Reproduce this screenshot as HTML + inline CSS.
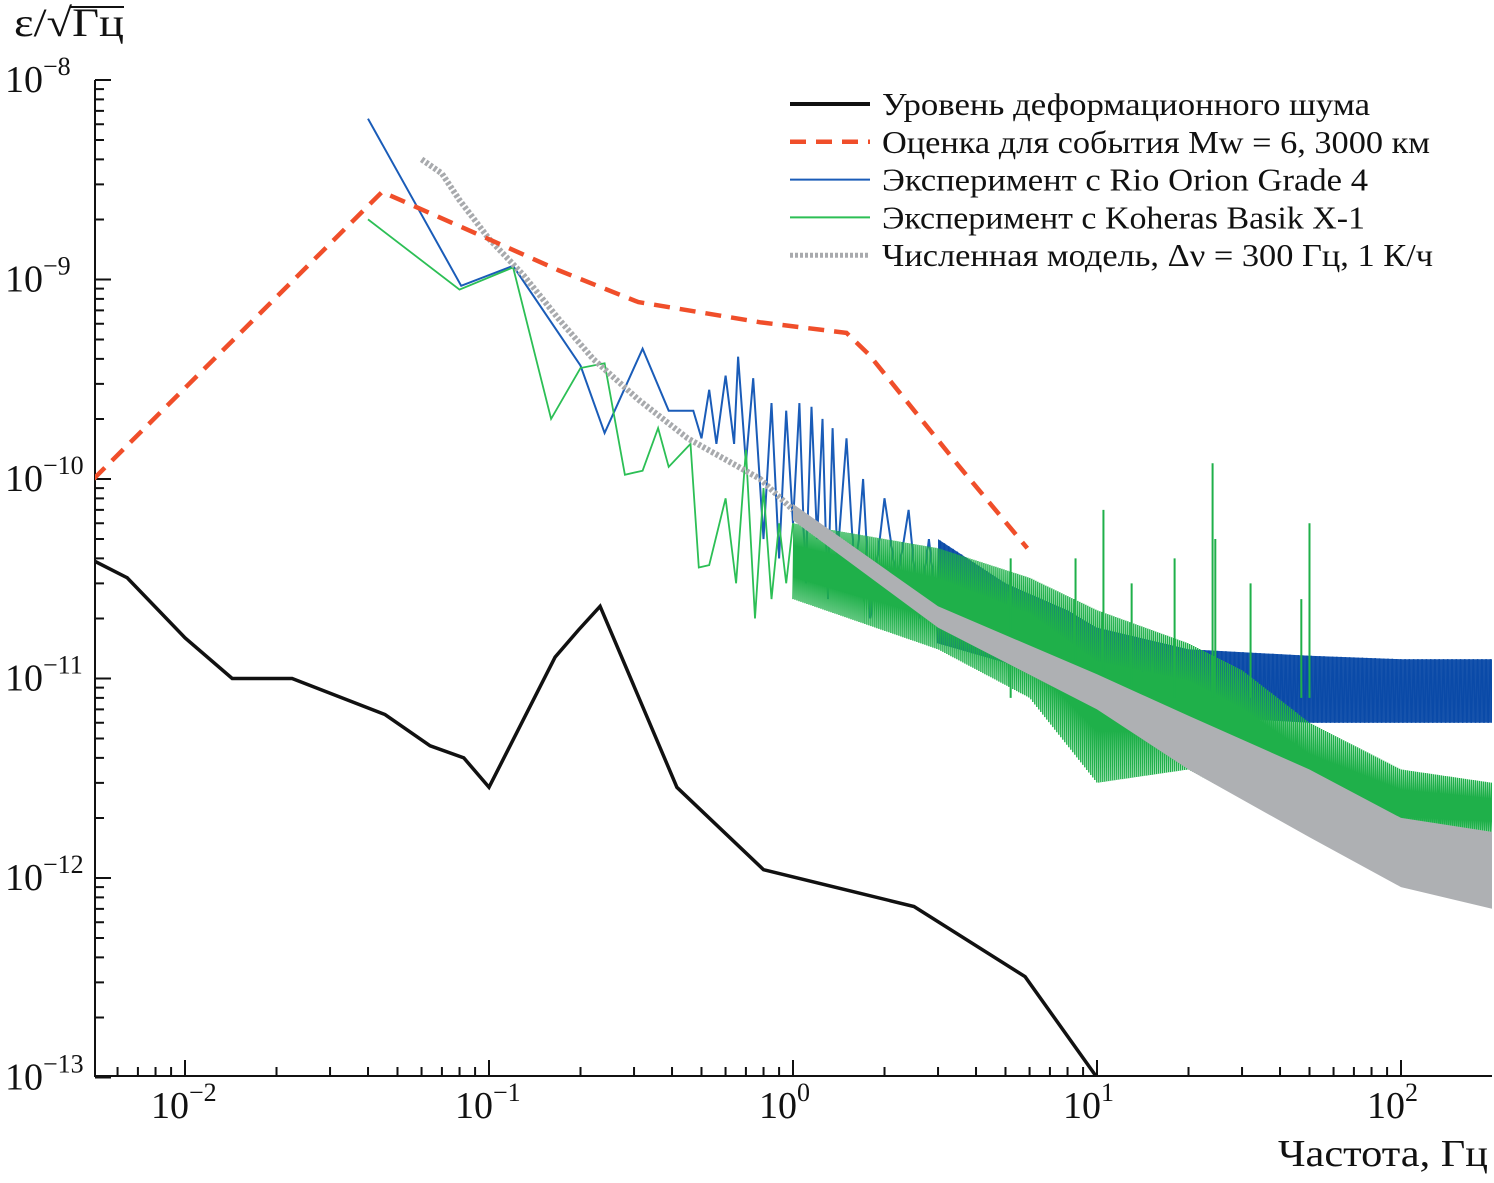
<!DOCTYPE html>
<html><head><meta charset="utf-8"><style>
body{margin:0;background:#fff}
svg text{font-family:"Liberation Serif",serif;fill:#111}
</style></head><body>
<svg id="c" width="1494" height="1178" viewBox="0 0 1494 1178"></svg>
<script>
// ---- data ----
const xTickExps=[-2,-1,0,1,2];
const yTickExps=[-8,-9,-10,-11,-12,-13];
const noiseF=[0.005,0.00645,0.01,0.0143,0.0225,0.0455,0.064,0.0826,0.1,0.165,0.197,0.232,0.415,0.8,2.5,5.8,10];
const noiseV=[3.9e-11,3.2e-11,1.6e-11,1e-11,1e-11,6.6e-12,4.6e-12,4e-12,2.85e-12,1.28e-11,1.75e-11,2.3e-11,2.85e-12,1.1e-12,7.2e-13,3.2e-13,1e-13];
const estF=[0.005,0.0445,0.102,0.17,0.31,0.78,1.5,1.78,3.5,5.9];
const estV=[1e-10,2.75e-9,1.57e-9,1.11e-9,7.7e-10,6.1e-10,5.4e-10,4.2e-10,1.17e-10,4.5e-11];
const rioF=[0.04,0.081,0.12,0.2,0.24,0.32,0.39,0.47,0.5,0.53,0.56,0.6,0.64,0.66,0.7,0.74,0.8,0.85,0.9,0.95,1.0,1.05,1.1,1.15,1.2,1.25,1.3,1.35,1.4,1.5,1.6,1.7,1.8,2.0,2.2,2.4,2.6,2.8,3.0];
const rioV=[6.4e-9,9.3e-10,1.17e-9,3.7e-10,1.7e-10,4.5e-10,2.2e-10,2.2e-10,1.6e-10,2.8e-10,1.5e-10,3.3e-10,1.5e-10,4.1e-10,1.2e-10,3.2e-10,5e-11,2.4e-10,4e-11,2.2e-10,6e-11,2.4e-10,3e-11,2.3e-10,5e-11,2e-10,2.5e-11,1.8e-10,4e-11,1.6e-10,3e-11,1e-10,2e-11,8e-11,3e-11,7e-11,2e-11,5e-11,2e-11];
const rioBandF=[3,5,8,10,20,50,100,200];
const rioBandHi=[5e-11,3e-11,2.2e-11,1.8e-11,1.4e-11,1.3e-11,1.25e-11,1.25e-11];
const rioBandLo=[1.5e-11,1.2e-11,9e-12,8e-12,6.5e-12,6e-12,6e-12,6e-12];
const kohF=[0.04,0.08,0.12,0.16,0.2,0.24,0.28,0.32,0.36,0.39,0.46,0.49,0.53,0.6,0.65,0.7,0.75,0.8,0.85,0.9,0.95,1.0];
const kohV=[2e-9,8.9e-10,1.15e-9,2e-10,3.6e-10,3.8e-10,1.05e-10,1.1e-10,1.8e-10,1.15e-10,1.5e-10,3.6e-11,3.7e-11,8e-11,3e-11,1.4e-10,2e-11,9e-11,2.5e-11,6e-11,3e-11,6e-11];
const kohBandF=[1,3,6,10,20,30,50,100,200];
const kohBandHi=[6e-11,4.5e-11,3.2e-11,2.2e-11,1.5e-11,1.1e-11,6e-12,3.5e-12,3e-12];
const kohBandLo=[2.5e-11,1.4e-11,8e-12,3e-12,3.5e-12,2.5e-12,1.8e-12,1.6e-12,1.6e-12];
const kohSpikeF=[5.2,8.5,10.5,13,18,24,24.5,32,47,50];
const kohSpikeV=[4e-11,4e-11,7e-11,3e-11,4e-11,1.2e-10,5e-11,3e-11,2.5e-11,6e-11];
const modF=[0.06,0.07,0.08,0.1,0.13,0.17,0.22,0.31,0.45,0.78,1.0];
const modV=[4e-9,3.4e-9,2.5e-9,1.6e-9,1.05e-9,6.3e-10,4e-10,2.5e-10,1.6e-10,1e-10,7e-11];
const modBandF=[1,3,10,20,50,100,200];
const modBandHi=[7.5e-11,2.3e-11,1.05e-11,6.5e-12,3.5e-12,2e-12,1.7e-12];
const modBandLo=[6.2e-11,1.8e-11,7e-12,3.5e-12,1.6e-12,9e-13,7e-13];
// ---- axes ----
const X=f=>185+(Math.log10(f)+2)*304;
const Y=v=>80+(-8-Math.log10(v))*199.5;
const L=95,R=1492,T=80,B=1076;
const svg=document.getElementById('c');const NS='http://www.w3.org/2000/svg';
function mk(t,a,p){const e=document.createElementNS(NS,t);for(const k in a)e.setAttribute(k,a[k]);(p||svg).appendChild(e);return e;}
function pts(F,V){return F.map((f,i)=>X(f).toFixed(1)+','+Y(V[i]).toFixed(1)).join(' ');}
function band(F,H,Lo){return pts(F,H)+' '+pts(F.slice().reverse(),Lo.slice().reverse());}
function zig(F,H,Lo,n){const a=[];const l0=Math.log10(F[0]),l1=Math.log10(F[F.length-1]);for(let i=0;i<=n;i++){const lf=l0+(l1-l0)*i/n;let j=0;while(j<F.length-2&&Math.log10(F[j+1])<lf)j++;const t=(lf-Math.log10(F[j]))/(Math.log10(F[j+1])-Math.log10(F[j]));const h=Math.log10(H[j])+t*(Math.log10(H[j+1])-Math.log10(H[j]));const lo=Math.log10(Lo[j])+t*(Math.log10(Lo[j+1])-Math.log10(Lo[j]));const v=(i%2?h:lo);a.push((185+(lf+2)*304).toFixed(1)+','+(80+(-8-v)*199.5).toFixed(1));}return a.join(' ');}
const ax=mk('path',{d:`M${L},${T}V${B}H${R}`,stroke:'#111','stroke-width':2,fill:'none'});


let td='';
yTickExps.forEach(e=>{const y=Y(Math.pow(10,e));td+=`M${L},${y}h16`;if(e>-13)for(let m=2;m<10;m++){const yy=Y(m*Math.pow(10,e-1));td+=`M${L},${yy}h9`;}});
for(let e=-3;e<=2;e++){for(let m=1;m<10;m++){const f=m*Math.pow(10,e);const x=X(f);if(x<L||x>R)continue;td+=`M${x},${B}v${m==1?-16:-9}`;}}
const tk=mk('path',{d:td,stroke:'#111','stroke-width':2});


yTickExps.forEach(e=>{const t=mk('text',{x:5,y:Y(Math.pow(10,e))+12,'font-size':38});t.innerHTML=`10<tspan dy="-17" font-size="26">−${-e}</tspan>`;

});
xTickExps.forEach(e=>{const t=mk('text',{x:X(Math.pow(10,e))-34,y:1118,'font-size':38});t.innerHTML=`10<tspan dy="-17" font-size="26">${e<0?'−':''}${Math.abs(e)}</tspan>`;

});
const yt=mk('text',{x:14,y:36,'font-size':40,textLength:110,lengthAdjust:'spacingAndGlyphs'});yt.innerHTML='ε/√Γц';


mk('line',{x1:70,y1:7,x2:124,y2:7,stroke:'#111','stroke-width':2});
const xt=mk('text',{x:1278,y:1166,'font-size':38,textLength:210,lengthAdjust:'spacingAndGlyphs'});xt.textContent='Частота, Гц';


const cp=mk('clipPath',{id:'cl'});mk('rect',{x:L,y:T-70,width:R-L,height:B-T+70},cp);
const g=mk('g',{'clip-path':'url(#cl)'});


const rb=mk('polygon',{points:band(rioBandF,rioBandHi,rioBandLo),fill:'#0a4aa8',opacity:0.95},g);


const rz=mk('polyline',{points:zig(rioBandF,rioBandHi,rioBandLo,260),fill:'none',stroke:'#0a4aa8','stroke-width':1.5},g);


const rl=mk('polyline',{points:pts(rioF,rioV),fill:'none',stroke:'#1a5cb8','stroke-width':2},g);


const kz=mk('polyline',{points:zig(kohBandF,kohBandHi,kohBandLo,700),fill:'none',stroke:'#1fb04a','stroke-width':1.4},g);


const kl=mk('polyline',{points:pts(kohF,kohV),fill:'none',stroke:'#2cbf55','stroke-width':1.8},g);


kohSpikeF.forEach((f,i)=>{const s=mk('line',{x1:X(f),x2:X(f),y1:Y(kohSpikeV[i]),y2:Y(8e-12),stroke:'#1fb04a','stroke-width':2},g);

});
const mb=mk('polygon',{points:band(modBandF,modBandHi,modBandLo),fill:'#aeb0b3'},g);


const ml=mk('polyline',{points:pts(modF,modV),fill:'none',stroke:'#a8aaad','stroke-width':6,'stroke-dasharray':'3 2'},g);


const el=mk('polyline',{points:pts(estF,estV),fill:'none',stroke:'#f04e2a','stroke-width':4.5,'stroke-dasharray':'16 10'},g);


const nl=mk('polyline',{points:pts(noiseF,noiseV),fill:'none',stroke:'#111','stroke-width':3.5},g);


const leg=[['Уровень деформационного шума','#111',4,'none',488],['Оценка для события Mw = 6, 3000 км','#f04e2a',4.5,'16 10',548],['Эксперимент с Rio Orion Grade 4','#1a5cb8',2,'none',486],['Эксперимент с Koheras Basik X-1','#2cbf55',2,'none',483],['Численная модель, Δν = 300 Гц, 1 К/ч','#a8aaad',5,'3 2',551]];
leg.forEach((l,i)=>{const y=104+i*37.8;const gg=mk('g',{});


mk('line',{x1:790,x2:870,y1:y,y2:y,stroke:l[1],'stroke-width':l[2],'stroke-dasharray':l[3]},gg);
const t=mk('text',{x:882,y:y+11,'font-size':32,textLength:l[4],lengthAdjust:'spacingAndGlyphs'},gg);t.textContent=l[0];});
</script>
</body></html>
